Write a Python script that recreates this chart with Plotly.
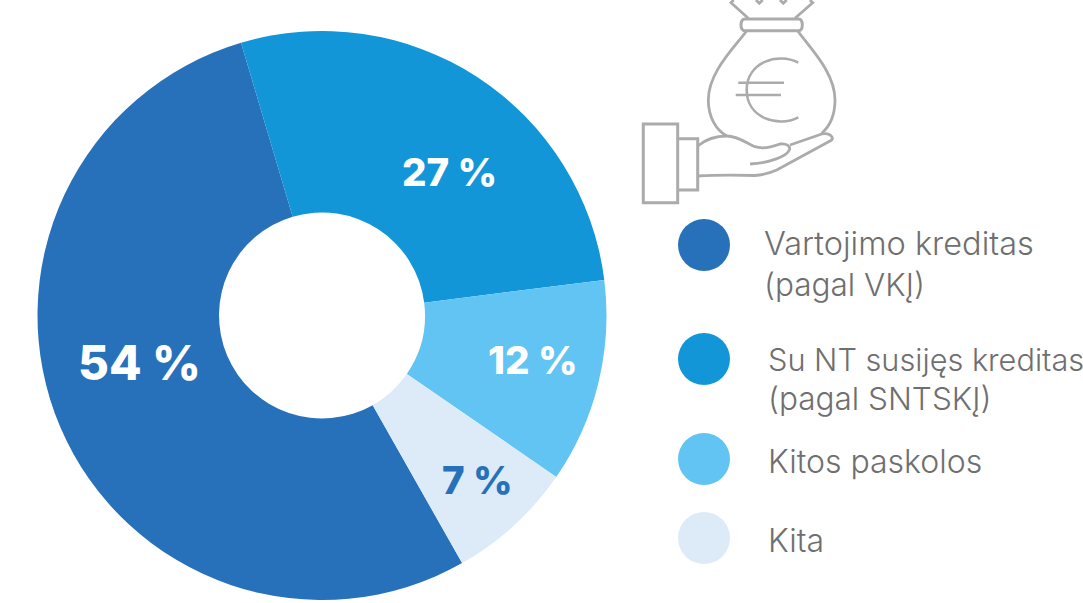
import re
import plotly.graph_objects as go

W, H = 1083, 603

categories = ["Vartojimo kreditas (pagal VKĮ)", "Su NT susijęs kreditas (pagal SNTSKĮ)", "Kitos paskolos", "Kita"]
shares = [53.6, 27.6, 11.6, 7.2]
share_labels = ["54 %", "27 %", "12 %", "7 %"]
colors = ["#2671b9", "#1296d8", "#62c4f3", "#dcebf7"]
label_colors = ["#ffffff", "#ffffff", "#ffffff", "#2671b9"]
label_xy = [(139, 362), (449, 172), (533, 360), (477, 480)]
label_sizes = [47.5, 38.5, 38.5, 38.5]
legend_lines = [["Vartojimo kreditas", "(pagal VKĮ)"], ["Su NT susijęs kreditas", "(pagal SNTSKĮ)"], ["Kitos paskolos"], ["Kita"]]
legend_dots = [(704, 245), (704, 359), (704, 459), (704, 538)]
legend_text_x = [762, 766, 766, 766]
legend_text_y = [[244, 284], [359, 398], [461], [540]]
legend_text_size = [[32.5, 31.5], [30.7, 31.5], [32], [32]]

GREY = "#ababab"
icon_paths = [
    ("M748.3 18.3 L731 2.7 L733.7 0 M756 0 L759.3 3.3 L762.7 0 M780 0 L783.3 3.3 L786.7 0 M810 0 L812.7 2.7 L795 18.3", 2.8),
    ("M745 19 L798.5 19 C801 19 802.3 21 802.3 25 C802.3 29 801 30.7 798.5 30.7 L745 30.7 C742 30.7 741 29 741 25 C741 21 742 19 745 19 Z", 3),
    ("M746.7 30.7 C735 47 708.3 72 708.3 100 C708.3 117 716 130 726.7 136", 2.8),
    ("M797.7 30.7 C809 47 835 72 835 100 C835 115 830 126 821.7 133.3", 2.8),
    ("M798.3 62.7 C778 52 746.7 62 746.7 90 C746.7 118 778 128 798.3 117.3", 2.6),
    ("M738.3 82.7 L784 82.7 M735.7 95 L781 95", 2.6),
    ("M643.3 124 L677.7 124 L677.7 202.7 L643.3 202.7 Z", 3),
    ("M677.7 138.7 L697.7 138.7 L697.7 190 L677.7 190", 3),
    ("M697.7 146 C705 140 716 136 726.7 136 C738 136 748 144 755 146.7 C762 149 772 147 780 144 C786 143 791 146 789.3 150 C787 156 770 163 750 164", 2.8),
    ("M790 145 L821.7 134 C826 133 830 134 832 137 C833 139 832 140 830 141 L776.7 170 C770 173 765 175 755 175.5 C735 175 715 175 697.7 176", 2.8),
]


def to_paper(path):
    tokens = re.findall(r"[A-Za-z]|-?\d+\.?\d*", path)
    out, is_x = [], True
    for t in tokens:
        if t.isalpha():
            out.append(t)
            is_x = True
        else:
            v = float(t)
            out.append(f"{v / W:.5f}" if is_x else f"{1 - v / H:.5f}")
            is_x = not is_x
    return " ".join(out)


fig = go.Figure(
    go.Pie(
        labels=categories,
        values=shares,
        marker=dict(colors=colors, line=dict(width=0)),
        hole=0.362,
        sort=False,
        direction="clockwise",
        rotation=150.5,
        textinfo="none",
        showlegend=False,
        domain=dict(x=[37.5 / W, 606.5 / W], y=[1 - 601 / H, 1 - 30 / H]),
    )
)

shapes = []
for path, width in icon_paths:
    shapes.append(dict(type="path", xref="paper", yref="paper", path=to_paper(path),
                       line=dict(color=GREY, width=width)))
for (cx, cy), color in zip(legend_dots, colors):
    r = 26
    shapes.append(dict(type="circle", xref="paper", yref="paper",
                       x0=(cx - r) / W, x1=(cx + r) / W,
                       y0=1 - (cy + r) / H, y1=1 - (cy - r) / H,
                       fillcolor=color, line=dict(width=0)))

annotations = []
for text, (x, y), size, color in zip(share_labels, label_xy, label_sizes, label_colors):
    annotations.append(dict(text=text, x=x / W, y=1 - y / H, xref="paper", yref="paper",
                            xanchor="center", yanchor="middle", showarrow=False,
                            font=dict(family="Inter", size=size, color=color, weight=800)))
for lines, x, ys, sizes in zip(legend_lines, legend_text_x, legend_text_y, legend_text_size):
    for line, y, size in zip(lines, ys, sizes):
        annotations.append(dict(text=line, x=x / W, y=1 - y / H, xref="paper", yref="paper",
                                xanchor="left", yanchor="middle", showarrow=False,
                                font=dict(family="Inter", size=size, color="#6f6f6f", weight=300)))

fig.update_layout(width=W, height=H, margin=dict(l=0, r=0, t=0, b=0),
                  paper_bgcolor="white", plot_bgcolor="white",
                  shapes=shapes, annotations=annotations)
fig.write_html("out.html", config=dict(displayModeBar=False),
               post_script="document.body.style.margin='0';")
